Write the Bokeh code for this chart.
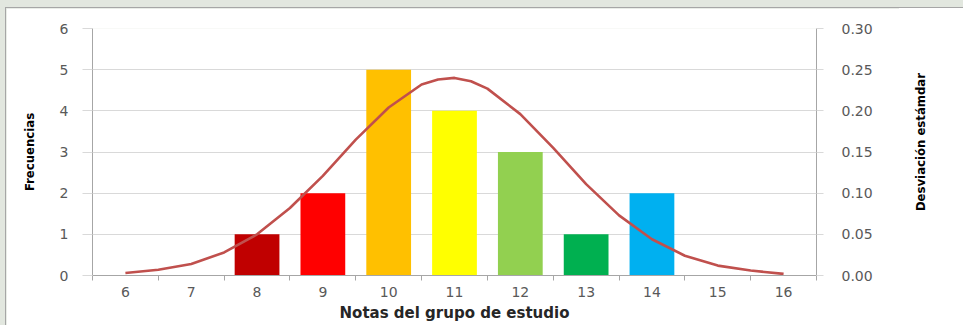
from bokeh.plotting import figure
from bokeh.models import Range1d, LinearAxis, FixedTicker, NumeralTickFormatter, Div
from bokeh.layouts import column, row
from bokeh.embed import file_html
from bokeh.resources import INLINE

# Notas (categorías del eje X)
notas = [6, 7, 8, 9, 10, 11, 12, 13, 14, 15, 16]

# Frecuencias por nota (barras)
notas_barras = [8, 9, 10, 11, 12, 13, 14]
frecuencias = [1, 2, 5, 4, 3, 1, 2]
colores = ["#C00000", "#FF0000", "#FFC000", "#FFFF00", "#92D050", "#00B050", "#00B0F0"]

# Curva de distribución (eje secundario)
curva_x = [6, 6.5, 7, 7.5, 8, 8.5, 9, 9.5, 10, 10.5, 10.75, 11, 11.25,
           11.5, 12, 12.5, 13, 13.5, 14, 14.5, 15, 15.5, 16]
curva_y = [0.003, 0.007, 0.014, 0.028, 0.050, 0.082, 0.121, 0.165, 0.204, 0.232, 0.238, 0.240, 0.236,
           0.227, 0.196, 0.155, 0.111, 0.073, 0.044, 0.024, 0.012, 0.006, 0.002]

ticks_frec = [0, 1, 2, 3, 4, 5, 6]
ticks_desv = [0, 0.05, 0.10, 0.15, 0.20, 0.25, 0.30]

TICK_FONT = "DejaVu Sans"
TITLE_FONT = "DejaVu Sans Condensed"
GRAY_TXT = "#595959"
AXIS_COL = "#A6A6A6"
GRID_COL = "#D9D9D9"
BORDER = "1px solid #A6A6A6"

p = figure(width=894, height=318, output_backend="svg", toolbar_location=None,
           x_range=Range1d(notas[0] - 0.5, notas[-1] + 0.5),
           y_range=Range1d(0, 6),
           min_border_left=86, min_border_right=84, min_border_top=20, min_border_bottom=51)
p.margin = (7, 0, 0, 5)
p.styles = {"border-left": BORDER, "border-top": BORDER}
p.outline_line_color = None
p.background_fill_color = "white"
p.border_fill_color = "white"

p.extra_y_ranges = {"desv": Range1d(0, 0.30)}

# Barras de frecuencias
p.vbar(x=notas_barras, top=frecuencias, width=0.68, fill_color=colores, line_color=None)

# Curva normal sobre el eje derecho
p.line(curva_x, curva_y, y_range_name="desv", line_color="#C0504D", line_width=2.6,
       line_join="round")

# Rejilla
p.xgrid.visible = False
p.ygrid.grid_line_color = GRID_COL
p.ygrid.grid_line_width = 1

# Eje X: etiquetas en el centro, marcas entre categorías
xa = p.xaxis[0]
xa.ticker = FixedTicker(ticks=notas, minor_ticks=[n - 0.5 for n in notas] + [notas[-1] + 0.5])
xa.major_tick_out = 0
xa.major_tick_in = 0
xa.minor_tick_out = 5
xa.minor_tick_in = 0
xa.minor_tick_line_color = AXIS_COL
xa.axis_line_color = AXIS_COL
xa.major_label_text_font = TICK_FONT
xa.major_label_text_font_size = "14px"
xa.major_label_text_color = GRAY_TXT
xa.major_label_standoff = 6
xa.axis_label = "Notas del grupo de estudio"
xa.axis_label_text_font = TICK_FONT
xa.axis_label_text_font_style = "bold"
xa.axis_label_text_font_size = "15px"
xa.axis_label_text_color = "#262626"
xa.axis_label_standoff = 4

# Eje Y izquierdo: frecuencias
ya = p.yaxis[0]
ya.ticker = FixedTicker(ticks=ticks_frec)
ya.major_tick_out = 10
ya.major_tick_in = 0
ya.minor_tick_out = 0
ya.minor_tick_in = 0
ya.major_tick_line_color = GRID_COL
ya.axis_line_color = AXIS_COL
ya.major_label_text_font = TICK_FONT
ya.major_label_text_font_size = "14px"
ya.major_label_text_color = GRAY_TXT
ya.major_label_standoff = 14
ya.axis_label = "Frecuencias"
ya.axis_label_text_font = TITLE_FONT
ya.axis_label_text_font_style = "bold"
ya.axis_label_text_font_size = "13px"
ya.axis_label_text_color = "#000000"
ya.axis_label_standoff = 20

# Eje Y derecho: desviación estándar
ra = LinearAxis(y_range_name="desv", ticker=FixedTicker(ticks=ticks_desv),
                formatter=NumeralTickFormatter(format="0.00"))
ra.major_tick_out = 7
ra.major_tick_in = 0
ra.minor_tick_out = 0
ra.minor_tick_in = 0
ra.major_tick_line_color = GRID_COL
ra.axis_line_color = AXIS_COL
ra.major_label_text_font = TICK_FONT
ra.major_label_text_font_size = "14px"
ra.major_label_text_color = GRAY_TXT
ra.major_label_standoff = 18
p.add_layout(ra, "right")

# Título del eje derecho, leído de abajo hacia arriba
titulo_der = Div(
    text=('<div style="height:268px; display:flex; align-items:center; padding-left:13px;">'
          '<span style="writing-mode:vertical-rl; transform:rotate(180deg); '
          'font-family:\'DejaVu Sans Condensed\'; font-weight:bold; font-size:13px; '
          'color:#000000; white-space:nowrap;">Desviación estámdar</span></div>'),
    width=64, height=318, margin=(7, 0, 0, 0),
    styles={"border-top": BORDER, "background-color": "white"})

layout = column(row(p, titulo_der, spacing=0), spacing=0,
                styles={"background-color": "#E2E7DF"})
open("out.html", "w").write(file_html(layout, INLINE))
